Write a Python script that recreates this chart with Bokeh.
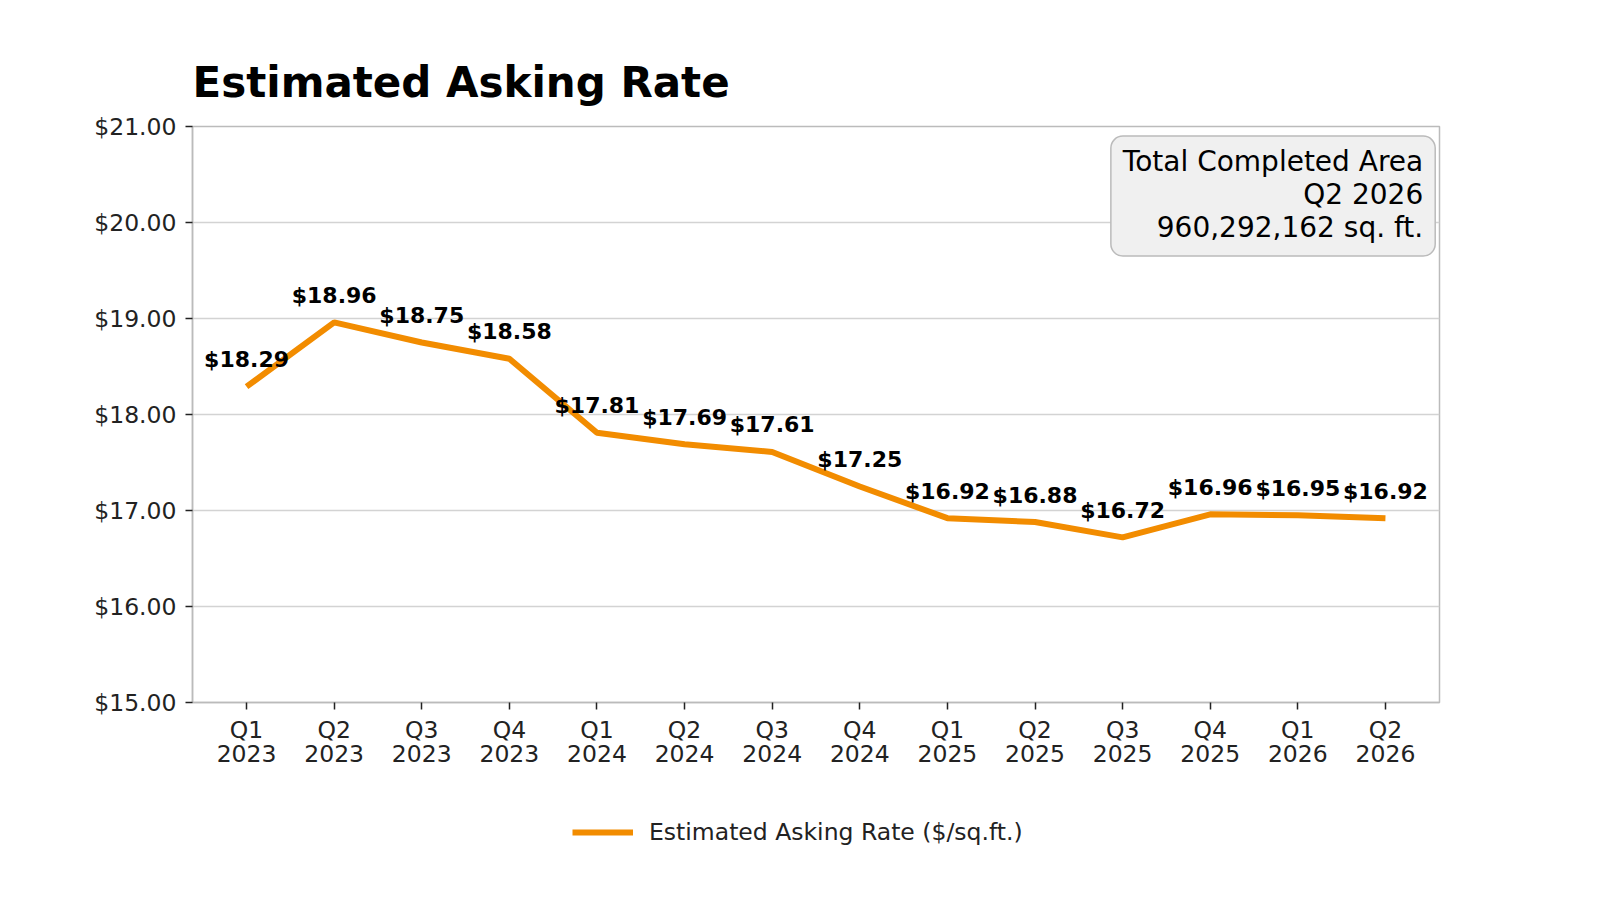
from bokeh.plotting import figure
from bokeh.layouts import column
from bokeh.models import ColumnDataSource, FixedTicker, Label, Legend, LegendItem, NumeralTickFormatter, Range1d
from bokeh.core.properties import value
from bokeh.embed import file_html
from bokeh.resources import INLINE

quarters = ["Q1\n2023", "Q2\n2023", "Q3\n2023", "Q4\n2023",
            "Q1\n2024", "Q2\n2024", "Q3\n2024", "Q4\n2024",
            "Q1\n2025", "Q2\n2025", "Q3\n2025", "Q4\n2025",
            "Q1\n2026", "Q2\n2026"]
rates = [18.29, 18.96, 18.75, 18.58, 17.81, 17.69, 17.61, 17.25,
         16.92, 16.88, 16.72, 16.96, 16.95, 16.92]
y_ticks = [15, 16, 17, 18, 19, 20, 21]
annotation = "Total Completed Area\nQ2 2026\n960,292,162 sq. ft."
series_name = "Estimated Asking Rate ($/sq.ft.)"
title_text = "Estimated Asking Rate"

FONT = "DejaVu Sans"
ORANGE = "#F28C00"
W = 1584

xs = list(range(len(quarters)))
src = ColumnDataSource(dict(x=xs, y=rates, lbl=[f"${v:.2f}" for v in rates]))

p = figure(width=W, height=790, output_backend="svg", toolbar_location=None,
           x_range=Range1d(-0.617, len(quarters) - 1 + 0.617),
           y_range=Range1d(15, 21),
           min_border_left=192, min_border_right=145,
           min_border_top=126, min_border_bottom=88)
p.title.text = title_text
p.title.text_font = FONT
p.title.text_font_size = "42px"
p.title.text_font_style = "bold"
p.title.text_color = "black"
p.title.offset = 0
p.title.standoff = 40

p.outline_line_color = "#bbbbbb"
p.outline_line_width = 1.5
p.xgrid.grid_line_color = None
p.ygrid.grid_line_color = "#d3d3d3"
p.ygrid.grid_line_width = 1.5

for ax in (p.xaxis[0], p.yaxis[0]):
    ax.axis_line_color = "#bbbbbb"
    ax.axis_line_width = 1.5
    ax.major_tick_line_color = "#222222"
    ax.major_tick_line_width = 1.5
    ax.major_tick_out = 7
    ax.major_tick_in = 0
    ax.minor_tick_line_color = None
    ax.major_label_text_font = FONT
    ax.major_label_text_font_size = "23.5px"
    ax.major_label_text_color = "#222222"

p.xaxis.ticker = FixedTicker(ticks=xs)
p.xaxis.major_label_overrides = {i: q for i, q in enumerate(quarters)}
p.xaxis.major_label_standoff = 6
p.xaxis.major_label_text_line_height = 0.88
p.yaxis.ticker = FixedTicker(ticks=y_ticks)
p.yaxis.formatter = NumeralTickFormatter(format="$0.00")
p.yaxis.major_label_standoff = 9

r = p.line("x", "y", source=src, line_color=ORANGE, line_width=6)
p.text("x", "y", text="lbl", source=src, text_align="center", text_baseline="middle",
       y_offset=-27, text_font=value(FONT), text_font_style="bold",
       text_font_size="22px", text_color="black")

box = Label(x=13.568, y=20.90, text=annotation, text_align="right", text_baseline="top",
            text_font=FONT, text_font_size="28px", text_color="black",
            text_line_height=1.0,
            background_fill_color="#f0f0f0", background_fill_alpha=1.0,
            border_line_color="#bbbbbb", border_line_width=1.5,
            padding=(12, 12, 9, 12), border_radius=12)
p.add_layout(box)

# legend strip below the chart (same series drawn out of view so only its legend swatch shows)
lg = figure(width=W, height=84, output_backend="svg", toolbar_location=None,
            x_range=Range1d(0, 1), y_range=Range1d(0, 1),
            min_border=0, outline_line_color=None)
lg.axis.visible = False
lg.grid.visible = False
swatch = lg.line("x", "y", source=src, line_color=ORANGE, line_width=6)
legend = Legend(items=[LegendItem(label=series_name, renderers=[swatch])],
                orientation="horizontal", location=(380, 28),
                label_text_font=FONT, label_text_font_size="23.5px", label_text_color="#222222",
                glyph_width=61, glyph_height=24, border_line_color=None,
                background_fill_alpha=0, margin=0, padding=0, spacing=0, label_standoff=16)
lg.add_layout(legend)

open("out.html", "w").write(file_html(column(p, lg), INLINE))
